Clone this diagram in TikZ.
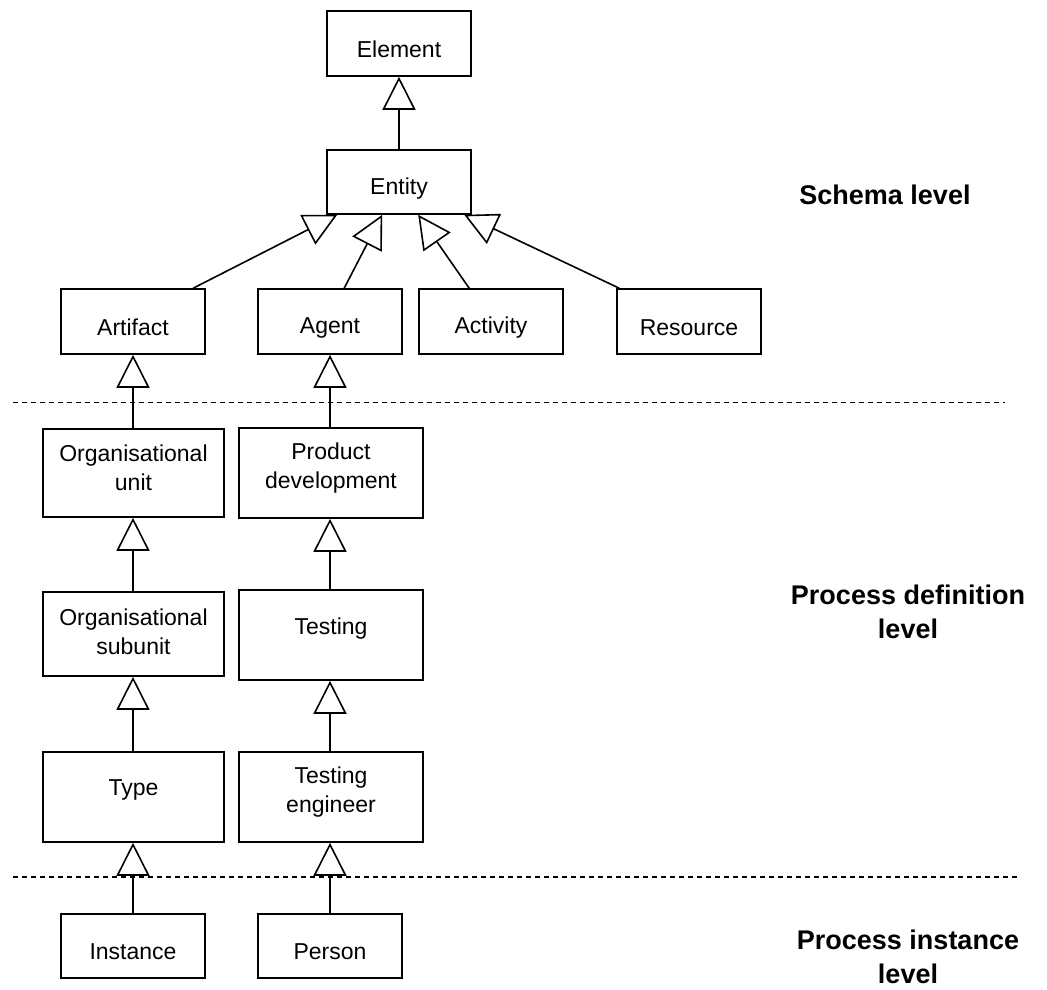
\documentclass[tikz,border=0pt]{standalone}
\usepackage{fontspec}
\setmainfont{Liberation Sans}
\usetikzlibrary{arrows.meta,calc}

\tikzset{
  box/.style={draw, line width=1.6pt, rectangle, inner sep=0pt},
  small/.style={box, minimum width=144pt, minimum height=65pt},
  wide/.style={box, minimum width=181pt, minimum height=88pt},
  widr/.style={box, minimum width=184pt, minimum height=90pt},
  txt/.style={align=center, inner sep=0pt, font=\fontsize{23}{29}\selectfont},
  lvl/.style={align=center, inner sep=0pt, font=\fontsize{27}{34}\selectfont\bfseries},
  gen/.style={line width=1.6pt, -{Triangle[open, length=33pt, width=33pt, line width=1.6pt]}},
  level line/.style={line width=1.5pt, dash pattern=on 5pt off 4pt},
}

\begin{document}
\begin{tikzpicture}[x=1pt, y=-1pt]
\useasboundingbox (0,0) rectangle (1047,990);

% schema level
\node[small] (element)  at (399, 43.5) {};
\node[small, minimum height=64pt] (entity) at (399, 182) {};
\node[small] (artifact) at (133, 321.5) {};
\node[small] (agent)    at (330, 321.5) {};
\node[small] (activity) at (491, 321.5) {};
\node[small] (resource) at (689, 321.5) {};

\node[txt] (telement)  at ([yshift=-6pt]element.center)  {Element};
\node[txt] (tentity)   at ([yshift=-7pt]entity.center)   {Entity};
\node[txt] (tartifact) at ([yshift=-6pt]artifact.center) {Artifact};
\node[txt] (tagent)    at ([yshift=-6pt]agent.center)    {Agent};
\node[txt] (tactivity) at ([yshift=-6pt]activity.center) {Activity};
\node[txt] (tresource) at ([yshift=-6pt]resource.center) {Resource};

% process definition level
\node[wide] (orgunit)  at (133.5, 473) {};
\node[widr] (proddev)  at (331, 473) {};
\node[wide, minimum height=84pt] (orgsub) at (133.5, 634) {};
\node[widr] (testing)  at (331, 635) {};
\node[wide, minimum height=90pt] (type) at (133.5, 797) {};
\node[widr] (testeng)  at (331, 797) {};

\node[txt] (torgunit) at ([yshift=5pt]orgunit.center) {Organisational\\unit};
\node[txt] (tproddev) at ([yshift=5pt]proddev.center) {Product\\development};
\node[txt] (torgsub)  at ([yshift=2pt]orgsub.center)  {Organisational\\subunit};
\node[txt] (ttesting) at ([yshift=6pt]testing.center) {Testing};
\node[txt] (ttype)    at ([yshift=7pt]type.center)    {Type};
\node[txt] (ttesteng) at ([yshift=5pt]testeng.center) {Testing\\engineer};

% process instance level
\node[small, minimum height=64pt] (instance) at (133, 946) {};
\node[small, minimum height=64pt] (person)   at (330, 946) {};
\node[txt] (tinstance) at ([yshift=-6pt]instance.center) {Instance};
\node[txt] (tperson)   at ([yshift=-6pt]person.center)   {Person};

% generalisation connectors
\draw[gen] (entity) -- (element);
\draw[gen] ([xshift=133pt]artifact.north west) -- ([xshift=11pt]entity.south west);
\draw[gen] ([xshift=87pt]agent.north west)     -- ([xshift=56pt]entity.south west);
\draw[gen] ([xshift=51pt]activity.north west)  -- ([xshift=92pt]entity.south west);
\draw[gen] ([xshift=3pt]resource.north west)   -- ([xshift=138pt]entity.south west);

\draw[gen] (orgunit.north -| artifact.south) -- (artifact.south);
\draw[gen] (proddev.north -| agent.south)    -- (agent.south);
\draw[gen] (orgsub.north -| artifact.south)  -- (orgunit.south -| artifact.south);
\draw[gen] (testing.north -| agent.south)    -- (proddev.south -| agent.south);
\draw[gen] (type.north -| artifact.south)    -- (orgsub.south -| artifact.south);
\draw[gen] (testeng.north -| agent.south)    -- (testing.south -| agent.south);
\draw[gen] (instance.north) -- (type.south -| instance.north);
\draw[gen] (person.north)   -- (testeng.south -| person.north);

% level separators
\coordinate (s1a) at (13, 402.5);
\coordinate (s1b) at (1005, 402.5);
\coordinate (s2a) at (13, 877);
\coordinate (s2b) at (1017, 877);
\draw[level line] (s1a) -- (s1b);
\draw[level line] (s2a) -- (s2b);

% level captions
\node[lvl] (schema)   at (885, 195) {Schema level};
\node[lvl] (procdef)  at (908, 612) {Process definition\\level};
\node[lvl] (procinst) at (908, 957) {Process instance\\level};
\end{tikzpicture}
\end{document}
